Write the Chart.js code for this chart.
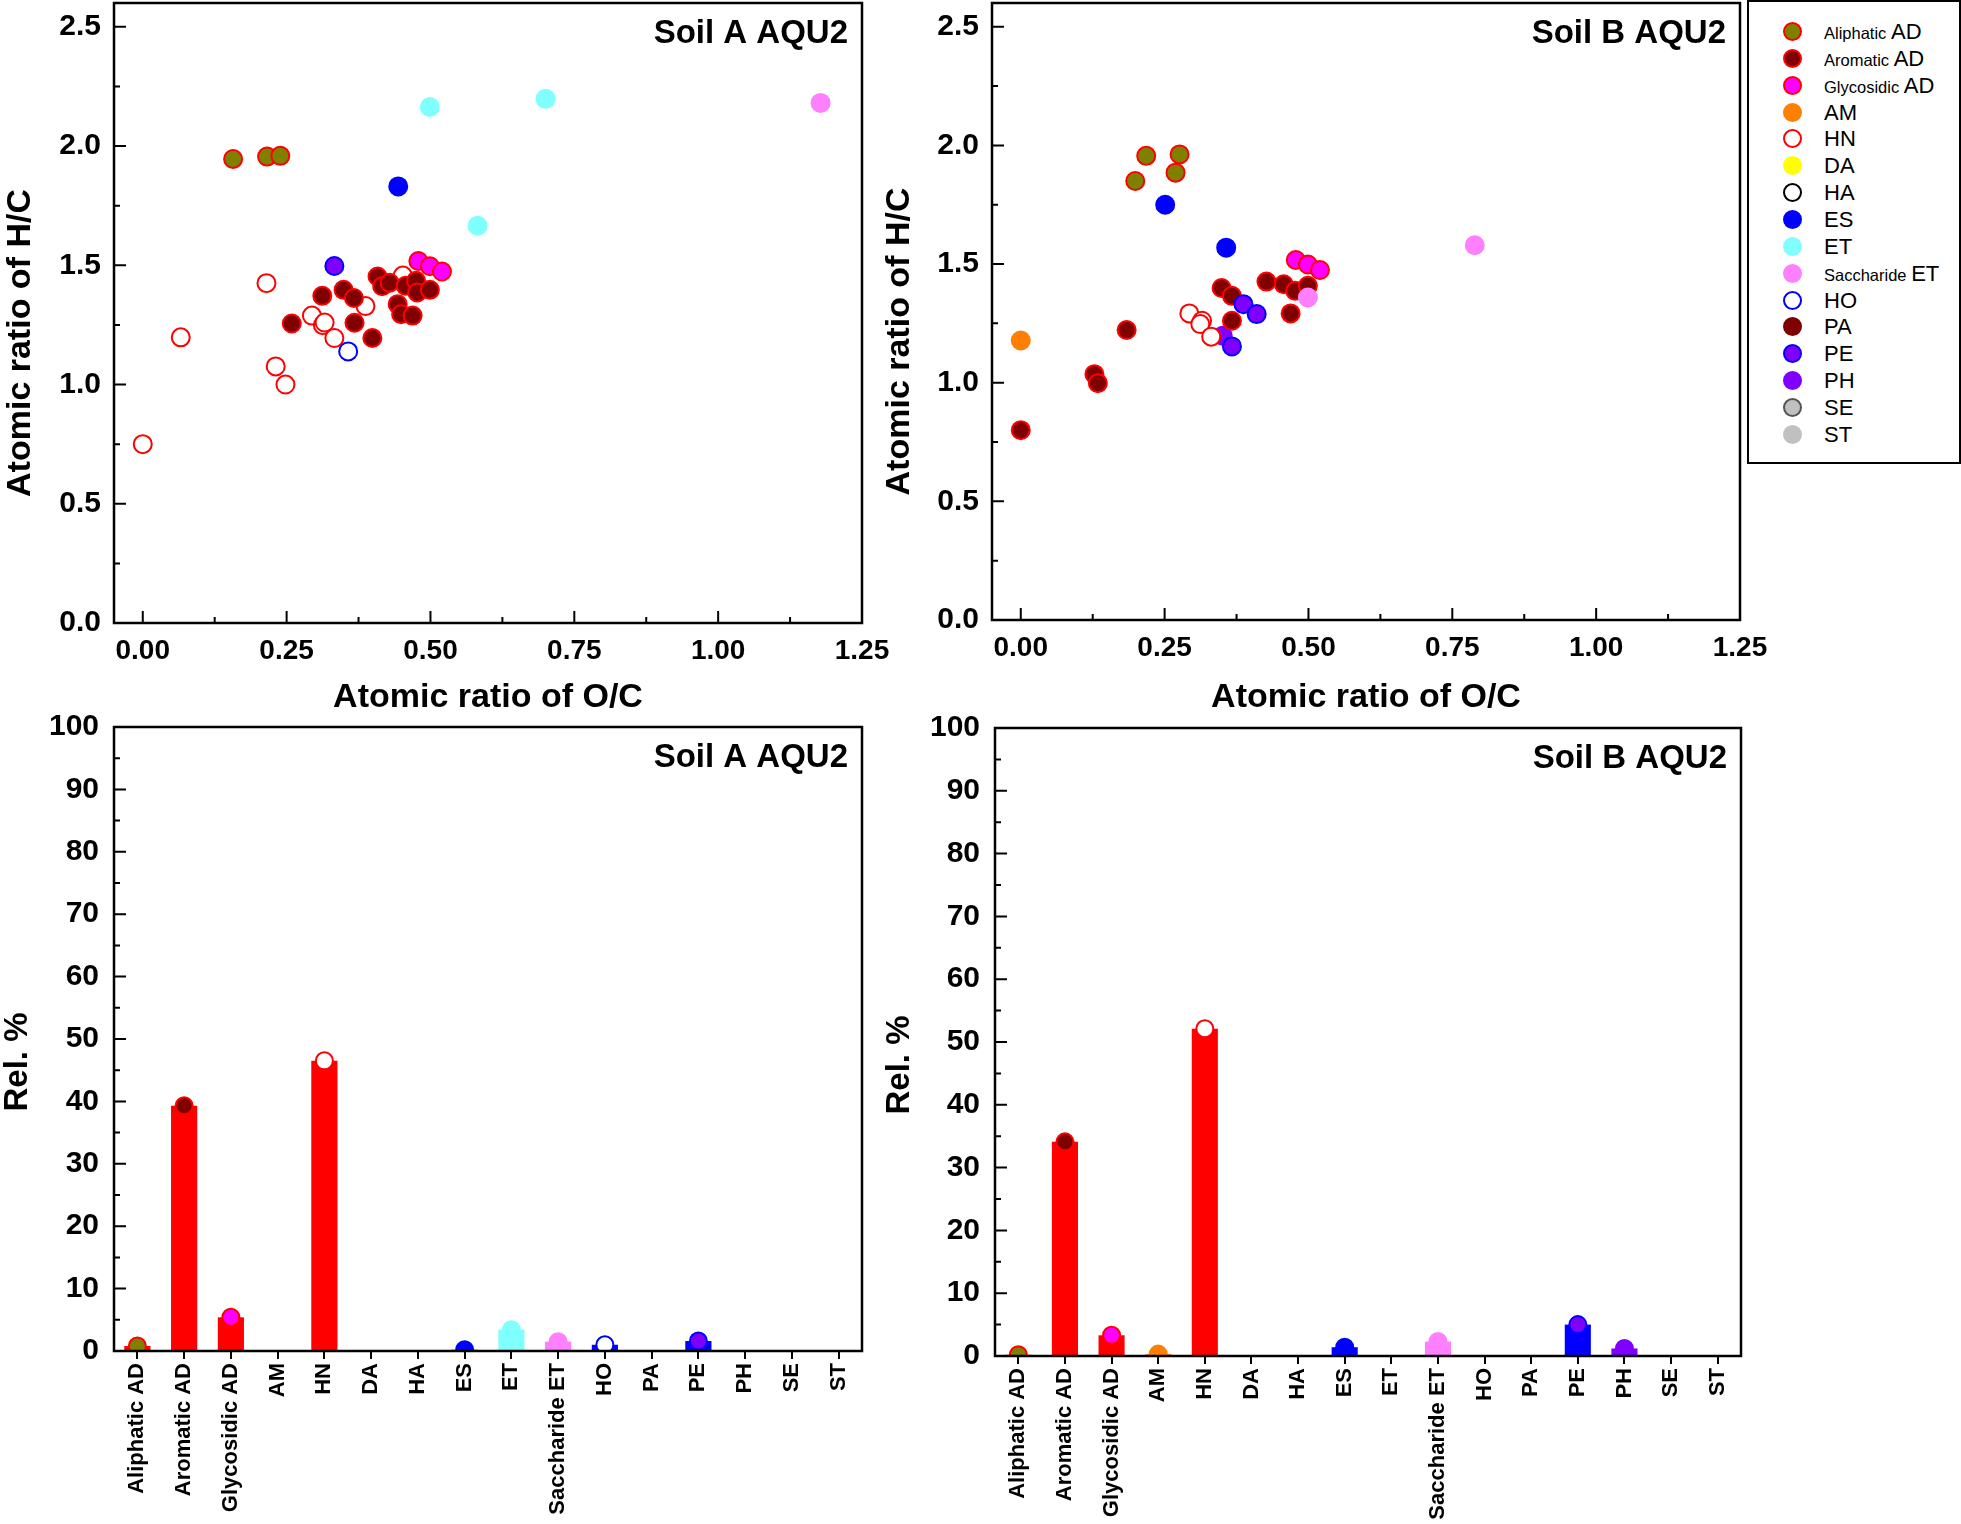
<!DOCTYPE html>
<html>
<head>
<meta charset="utf-8">
<script src="https://cdn.jsdelivr.net/npm/chart.js@4"></script>
<style>
  body { margin: 0; background: #fff; width: 1961px; height: 1524px; position: relative; overflow: hidden;
         font-family: 'Liberation Sans', Arial, sans-serif; }
  canvas { position: absolute; }
  #legend { position: absolute; left: 1747px; top: 0px; width: 214px; height: 464px;
            border: 2px solid #000; box-sizing: border-box; background: #fff; }
  .row { position: absolute; left: 0; height: 26px; width: 100%; }
  .dot { position: absolute; left: 34px; top: 3px; width: 19px; height: 19px; border-radius: 50%;
         border: 2px solid; box-sizing: border-box; }
  .txt { position: absolute; left: 75px; top: 0; line-height: 26px; font-size: 22px; white-space: nowrap; }
  .txt small { font-size: 16.5px; }
</style>
</head>
<body>
<canvas id="scatterA" width="900" height="720" style="left:0px;top:0px"></canvas>
<canvas id="scatterB" width="940" height="720" style="left:880px;top:0px"></canvas>
<canvas id="barA" width="900" height="824" style="left:0px;top:700px"></canvas>
<canvas id="barB" width="880" height="824" style="left:880px;top:700px"></canvas>
<div id="legend"></div>
<script>
// ---- compound classes (legend order) ----
const CATEGORIES = ["Aliphatic AD", "Aromatic AD", "Glycosidic AD", "AM", "HN", "DA", "HA", "ES",
                    "ET", "Saccharide ET", "HO", "PA", "PE", "PH", "SE", "ST"];
const FILL_COLORS = ["#808000", "#800000", "#ff00ff", "#ff8000", "#ffffff", "#ffff00", "#ffffff", "#0000ff",
                     "#80ffff", "#ff80ff", "#ffffff", "#800000", "#8000ff", "#8000ff", "#c0c0c0", "#c0c0c0"];
const EDGE_COLORS = ["#ff0000", "#ff0000", "#ff0000", "#ff8000", "#ff0000", "#ffff00", "#000000", "#0000ff",
                     "#80ffff", "#ff80ff", "#0000ff", "#800000", "#0000ff", "#8000ff", "#555555", "#c0c0c0"];

// relative abundance (%) per class
const SOIL_A_REL = [0.8, 39.3, 5.4, 0, 46.5, 0, 0, 0.2, 3.4, 1.5, 1.0, 0, 1.6, 0, 0, 0];
const SOIL_B_REL = [0.2, 34.1, 3.3, 0.3, 52.1, 0, 0, 1.4, 0, 2.3, 0, 0, 5.0, 1.2, 0, 0];

// van Krevelen points [O/C, H/C] -- Soil A
const A_ALIPHATIC_AD = [[0.157, 1.946], [0.216, 1.956], [0.239, 1.959]];
const A_AROMATIC_AD = [[0.259, 1.256], [0.312, 1.372], [0.349, 1.397], [0.367, 1.363], [0.368, 1.259],
                       [0.399, 1.195], [0.408, 1.453], [0.416, 1.412], [0.429, 1.427], [0.443, 1.337],
                       [0.449, 1.295], [0.469, 1.289], [0.457, 1.414], [0.475, 1.435], [0.477, 1.386],
                       [0.499, 1.397]];
const A_GLYCOSIDIC_AD = [[0.479, 1.518], [0.499, 1.496], [0.520, 1.474]];
const A_HN = [[0.0, 0.750], [0.066, 1.198], [0.215, 1.425], [0.231, 1.076], [0.248, 1.0], [0.294, 1.289],
              [0.313, 1.249], [0.316, 1.260], [0.333, 1.195], [0.387, 1.329], [0.452, 1.457]];
const A_ES = [[0.444, 1.831]];
const A_ET = [[0.499, 2.164], [0.700, 2.198], [0.582, 1.666]];
const A_SACCHARIDE_ET = [[1.178, 2.181]];
const A_HO = [[0.357, 1.139]];
const A_PE = [[0.333, 1.497]];

// Soil B
const B_ALIPHATIC_AD = [[0.199, 1.850], [0.218, 1.956], [0.269, 1.885], [0.276, 1.962]];
const B_AROMATIC_AD = [[0.0, 0.80], [0.128, 1.036], [0.134, 0.998], [0.184, 1.222], [0.349, 1.399],
                       [0.367, 1.366], [0.427, 1.426], [0.457, 1.415], [0.477, 1.387], [0.499, 1.408],
                       [0.469, 1.292], [0.367, 1.261]];
const B_GLYCOSIDIC_AD = [[0.478, 1.517], [0.499, 1.498], [0.520, 1.475]];
const B_AM = [[0.0, 1.178]];
const B_HN = [[0.293, 1.292], [0.315, 1.261], [0.312, 1.247], [0.331, 1.194]];
const B_ES = [[0.251, 1.75], [0.357, 1.569]];
const B_SACCHARIDE_ET = [[0.789, 1.579], [0.499, 1.359]];
const B_PE = [[0.387, 1.331], [0.410, 1.289], [0.367, 1.153]];
const B_PH = [[0.351, 1.198]];

// which class sits on top when markers overlap (lower = on top)
const Z_ORDER = { "Saccharide ET": 1, "Glycosidic AD": 2, "PE": 3, "ES": 4, "ET": 5, "HO": 6,
                  "Aromatic AD": 7, "Aliphatic AD": 8, "AM": 9, "HN": 10, "PH": 11 };

const FONT = "'Liberation Sans', Arial, sans-serif";
Chart.defaults.font.family = FONT;
Chart.defaults.color = "#000";

// force the axis box size and drop chart.js' label overflow padding,
// so the plot area lands exactly where the layout padding says
function fixSize(prop, px) {
  return s => {
    s[prop] = px;
    s.paddingTop = 0; s.paddingBottom = 0; s.paddingLeft = 0; s.paddingRight = 0;
  };
}

// frame box, inward ticks, y title (sits a bit below centre in the original) and the panel label
function framePlugin(opts) {
  return {
    id: "frame",
    afterDatasetsDraw(chart) {
      const { ctx, chartArea: a, scales } = chart;
      ctx.save();
      ctx.strokeStyle = "#000";
      ctx.lineWidth = 2.5;
      ctx.strokeRect(a.left, a.top, a.right - a.left, a.bottom - a.top);

      const each = (scale, minor, major, fn) => {
        const start = Math.ceil(scale.min / minor - 1e-9);
        for (let k = start; k * minor <= scale.max + 1e-9; k++) {
          const v = k * minor;
          const isMajor = Math.abs(v / major - Math.round(v / major)) < 1e-6;
          fn(scale.getPixelForValue(v), isMajor ? 12 : 6);
        }
      };
      ctx.lineWidth = 2;
      ctx.beginPath();
      each(scales.y, opts.yMinor, opts.yMajor, (p, len) => { ctx.moveTo(a.left, p); ctx.lineTo(a.left + len, p); });
      if (opts.xMajor) {
        each(scales.x, opts.xMinor, opts.xMajor, (p, len) => { ctx.moveTo(p, a.bottom); ctx.lineTo(p, a.bottom - len); });
      }
      ctx.stroke();

      ctx.fillStyle = "#000";
      ctx.textBaseline = "middle";

      ctx.font = "bold " + opts.yTitleSize + "px " + FONT;
      ctx.save();
      ctx.translate(opts.yTitleX, (a.top + a.bottom) / 2 + opts.yTitleDy);
      ctx.rotate(-Math.PI / 2);
      ctx.textAlign = "center";
      ctx.fillText(opts.yTitle, 0, 0);
      ctx.restore();

      ctx.font = "bold 33px " + FONT;
      ctx.textAlign = "right";
      ctx.fillText(opts.label, a.right - 14, a.top + 31);
      ctx.restore();
    }
  };
}

function scatterDatasets(series) {
  return series.map(([name, pts]) => {
    const i = CATEGORIES.indexOf(name);
    return {
      label: name,
      data: pts.map(([x, y]) => ({ x, y })),
      backgroundColor: FILL_COLORS[i],
      borderColor: EDGE_COLORS[i],
      borderWidth: 2,
      pointRadius: 9,
      order: Z_ORDER[name] ?? 20
    };
  });
}

function makeScatter(id, series, label, pad, yW, xH, titleX) {
  new Chart(document.getElementById(id), {
    type: "scatter",
    data: { datasets: scatterDatasets(series) },
    options: {
      responsive: false,
      animation: false,
      layout: { padding: pad, autoPadding: false },
      plugins: { legend: { display: false }, tooltip: { enabled: false } },
      scales: {
        x: {
          type: "linear", min: -0.05, max: 1.25,
          ticks: { stepSize: 0.25, includeBounds: false, callback: v => v.toFixed(2),
                   font: { size: 28, weight: "bold" }, padding: 11 },
          grid: { display: false, drawTicks: false },
          border: { display: false },
          title: { display: true, text: "Atomic ratio of O/C",
                   font: { size: 34, weight: "bold", lineHeight: 1 }, padding: { bottom: 5 } },
          afterFit: fixSize("height", xH)
        },
        y: {
          min: 0, max: 2.6,
          ticks: { stepSize: 0.5, includeBounds: false, callback: v => v.toFixed(1),
                   font: { size: 30, weight: "bold" }, padding: 13 },
          grid: { display: false, drawTicks: false },
          border: { display: false },
          afterFit: fixSize("width", yW)
        }
      }
    },
    plugins: [framePlugin({ label, xMajor: 0.25, xMinor: 0.125, yMajor: 0.5, yMinor: 0.25,
                            yTitle: "Atomic ratio of H/C", yTitleSize: 34, yTitleX: titleX, yTitleDy: 30 })]
  });
}

function makeBar(id, values, label, pad, yW, xH, titleX) {
  new Chart(document.getElementById(id), {
    type: "bar",
    data: {
      labels: CATEGORIES,
      datasets: [
        {
          type: "line",
          data: values.map(v => (v > 0 ? v : null)),
          showLine: false,
          pointRadius: 8.5,
          pointBorderWidth: 2,
          pointBackgroundColor: FILL_COLORS,
          pointBorderColor: EDGE_COLORS,
          clip: 0,
          order: 0
        },
        {
          data: values,
          backgroundColor: EDGE_COLORS,
          barPercentage: 0.56,
          categoryPercentage: 1,
          order: 1
        }
      ]
    },
    options: {
      responsive: false,
      animation: false,
      layout: { padding: pad, autoPadding: false },
      plugins: { legend: { display: false }, tooltip: { enabled: false } },
      scales: {
        x: {
          grid: { display: true, drawOnChartArea: false, drawTicks: true, tickLength: 8,
                  color: "#000", lineWidth: 2, offset: false },
          border: { display: false },
          ticks: { font: { size: 22, weight: "bold" }, minRotation: 90, maxRotation: 90,
                   padding: 4, autoSkip: false },
          afterFit: fixSize("height", xH)
        },
        y: {
          min: 0, max: 100,
          ticks: { stepSize: 10, font: { size: 30, weight: "bold" }, padding: 15 },
          grid: { display: false, drawTicks: false },
          border: { display: false },
          afterFit: fixSize("width", yW)
        }
      }
    },
    plugins: [framePlugin({ label, yMajor: 10, yMinor: 5,
                            yTitle: "Rel. %", yTitleSize: 33, yTitleX: titleX, yTitleDy: 23 })]
  });
}

function buildLegend() {
  const box = document.getElementById("legend");
  CATEGORIES.forEach((name, i) => {
    const row = document.createElement("div");
    row.className = "row";
    row.style.top = (30 + i * 26.85 - 13) + "px";
    const dot = document.createElement("div");
    dot.className = "dot";
    dot.style.background = FILL_COLORS[i];
    dot.style.borderColor = EDGE_COLORS[i];
    const txt = document.createElement("div");
    txt.className = "txt";
    const sp = name.lastIndexOf(" ");
    if (sp > 0) {
      const small = document.createElement("small");
      small.textContent = name.slice(0, sp) + " ";
      txt.appendChild(small);
      txt.appendChild(document.createTextNode(name.slice(sp + 1)));
    } else {
      txt.textContent = name;
    }
    row.appendChild(dot);
    row.appendChild(txt);
    box.appendChild(row);
  });
}

makeScatter("scatterA", [
  ["Aliphatic AD", A_ALIPHATIC_AD], ["Aromatic AD", A_AROMATIC_AD], ["Glycosidic AD", A_GLYCOSIDIC_AD],
  ["HN", A_HN], ["ES", A_ES], ["ET", A_ET], ["Saccharide ET", A_SACCHARIDE_ET], ["HO", A_HO], ["PE", A_PE]
], "Soil A AQU2", { top: 3, right: 38, left: 0, bottom: 0 }, 114, 97, 21);

makeScatter("scatterB", [
  ["Aliphatic AD", B_ALIPHATIC_AD], ["Aromatic AD", B_AROMATIC_AD], ["Glycosidic AD", B_GLYCOSIDIC_AD],
  ["AM", B_AM], ["HN", B_HN], ["ES", B_ES], ["Saccharide ET", B_SACCHARIDE_ET], ["PE", B_PE], ["PH", B_PH]
], "Soil B AQU2", { top: 3, right: 80, left: 0, bottom: 0 }, 112, 100, 20);

makeBar("barA", SOIL_A_REL, "Soil A AQU2", { top: 27, right: 38, left: 0, bottom: 0 }, 114, 173, 18);
makeBar("barB", SOIL_B_REL, "Soil B AQU2", { top: 28, right: 19, left: 0, bottom: 0 }, 115, 168, 20);

buildLegend();
</script>
</body>
</html>
